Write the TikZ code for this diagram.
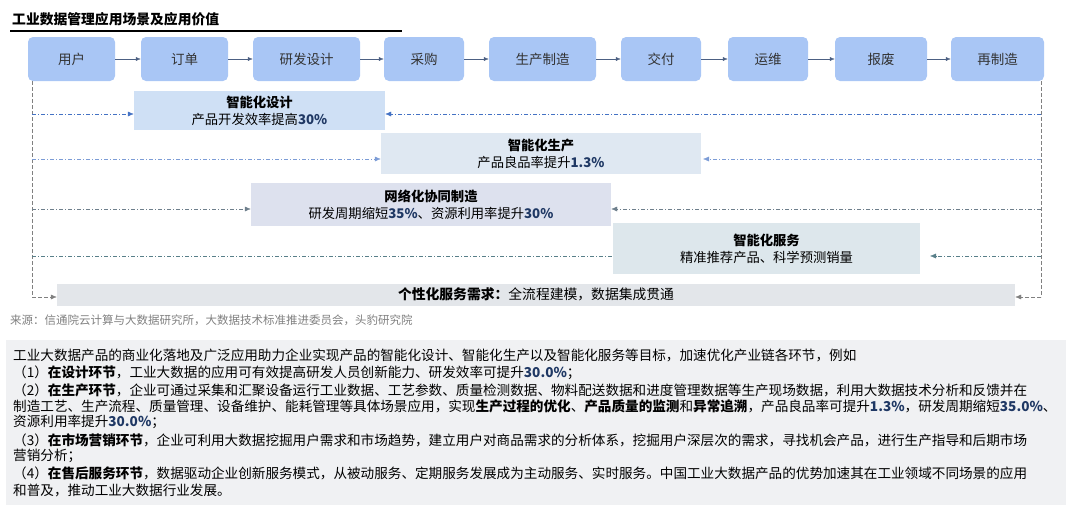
\documentclass[tikz,border=0pt]{standalone}
\usepackage{fontspec}
\setmainfont{Noto Sans CJK SC}
\usetikzlibrary{arrows.meta}
\definecolor{stepblue}{HTML}{A9C6F5}
\definecolor{navy}{HTML}{1F3864}
\definecolor{dashblue}{HTML}{4472C4}
\definecolor{dashgray}{HTML}{6E7F8C}
\definecolor{designfill}{HTML}{CFE0F5}
\definecolor{producefill}{HTML}{DFE8F2}
\definecolor{networkfill}{HTML}{DDE1EE}
\definecolor{servicefill}{HTML}{DDE7EC}
\definecolor{demandfill}{HTML}{E3E6EA}
\definecolor{summaryfill}{HTML}{F0F1F3}
\newcommand{\num}[1]{\textbf{\color{navy}#1}}
\begin{document}
\begin{tikzpicture}[x=1pt,y=-1pt,
    stepbox/.style={shape=rectangle,rounded corners=5pt,fill=stepblue,minimum height=44pt,font=\fontsize{13.5}{13}\selectfont,text=black!80},
    flow/.style={-{Latex[length=5pt,width=4pt]},navy!80,thin},
    scene/.style={shape=rectangle,align=center,font=\fontsize{13.3}{17}\selectfont,inner sep=0pt},
    link/.style={dash pattern=on 4pt off 2pt on 1pt off 2pt,thin,-{Latex[length=6pt,width=5pt]}},
    side/.style={dash pattern=on 4pt off 2pt,thin,gray},
    line/.style={anchor=west,font=\fontsize{13.6}{13}\selectfont,inner sep=0pt}]
\useasboundingbox (0,0) rectangle (1072,512);
% title
\node[anchor=west,inner sep=0pt,font=\fontsize{13.8}{13}\selectfont\bfseries] (title) at (12,19) {工业数据管理应用场景及应用价值};
\draw[line width=1.6pt] (10,31) -- (402,31);
% value chain
\node[stepbox,minimum width=87pt] (user) at (71.5,59) {用户};
\node[stepbox,minimum width=87pt] (order) at (184.5,59) {订单};
\node[stepbox,minimum width=107pt] (rnd) at (306.5,59) {研发设计};
\node[stepbox,minimum width=80pt] (buy) at (424,59) {采购};
\node[stepbox,minimum width=107pt] (make) at (542.5,59) {生产制造};
\node[stepbox,minimum width=80pt] (deliver) at (661,59) {交付};
\node[stepbox,minimum width=80pt] (maint) at (768,59) {运维};
\node[stepbox,minimum width=92pt] (scrap) at (881,59) {报废};
\node[stepbox,minimum width=93pt] (remake) at (997.5,59) {再制造};
\draw[flow] (user) -- (order);
\draw[flow] (order) -- (rnd);
\draw[flow] (rnd) -- (buy);
\draw[flow] (buy) -- (make);
\draw[flow] (make) -- (deliver);
\draw[flow] (deliver) -- (maint);
\draw[flow] (maint) -- (scrap);
\draw[flow] (scrap) -- (remake);
% scenes
\node[scene,fill=designfill,minimum width=251pt,minimum height=39pt] (design) at (259.5,110.5) {\textbf{智能化设计}\\产品开发效率提高\num{30\%}};
\node[scene,fill=producefill,minimum width=320pt,minimum height=41pt] (produce) at (541,153.5) {\textbf{智能化生产}\\产品良品率提升\num{1.3\%}};
\node[scene,fill=networkfill,minimum width=360pt,minimum height=43pt] (network) at (431,204.5) {\textbf{网络化协同制造}\\研发周期缩短\num{35\%}、资源利用率提升\num{30\%}};
\node[scene,fill=servicefill,minimum width=307pt,minimum height=51pt] (service) at (766.5,248.5) {\textbf{智能化服务}\\精准推荐产品、科学预测销量};
\node[scene,fill=demandfill,minimum width=958pt,minimum height=22pt,font=\fontsize{13.8}{13}\selectfont] (demand) at (536,294.5) {\textbf{个性化服务需求：}全流程建模，数据集成贯通};
% feedback loops
\coordinate (ltop) at (32,81);
\coordinate (rtop) at (1041,81);
\coordinate (lbot) at (32,297);
\coordinate (rbot) at (1041,297);
\draw[side] (ltop) -- (lbot);
\draw[side] (rtop) -- (rbot);
\draw[side,-{Latex[length=6pt,width=5pt]}] (lbot) -- (lbot -| demand.west);
\draw[side,-{Latex[length=6pt,width=5pt]}] (rbot) -- (rbot -| demand.east);
\draw[link,dashblue] (32,114) -- (design.west |- 0,114);
\draw[link,dashblue] (1041,114) -- (design.east |- 0,114);
\draw[link,dashblue!70] (32,159) -- (produce.west |- 0,159);
\draw[link,dashblue!70] (1041,159) -- (703,159);
\draw[link,dashgray] (32,209) -- (network.west |- 0,209);
\draw[link,dashgray] (1041,209) -- (network.east |- 0,209);
\draw[link,dashgray!80!teal,-] (32,256) -- (service.west |- 0,256);
\draw[link,dashgray!80!teal] (1041,256) -- (930,256);
% source
\node[anchor=west,inner sep=0pt,font=\fontsize{11.5}{11}\selectfont,text=gray] (source) at (10,320) {来源：信通院云计算与大数据研究所，大数据技术标准推进委员会，头豹研究院};
% summary
\fill[summaryfill] (6,340) rectangle (1066,505);
\node[line] (l1) at (13,355) {工业大数据产品的商业化落地及广泛应用助力企业实现产品的智能化设计、智能化生产以及智能化服务等目标，加速优化产业链各环节，例如};
\node[line] (l2) at (13,373) {（1）\textbf{在设计环节}，工业大数据的应用可有效提高研发人员创新能力、研发效率可提升\num{30.0\%}；};
\node[line] (l3) at (13,390) {（2）\textbf{在生产环节}，企业可通过采集和汇聚设备运行工业数据、工艺参数、质量检测数据、物料配送数据和进度管理数据等生产现场数据，利用大数据技术分析和反馈并在};
\node[line] (l4) at (13,406) {制造工艺、生产流程、质量管理、设备维护、能耗管理等具体场景应用，实现\textbf{生产过程的优化}、\textbf{产品质量的监测}和\textbf{异常追溯}，产品良品率可提升\num{1.3\%}，研发周期缩短\num{35.0\%}、};
\node[line] (l5) at (13,422) {资源利用率提升\num{30.0\%}；};
\node[line] (l6) at (13,440) {（3）\textbf{在市场营销环节}，企业可利用大数据挖掘用户需求和市场趋势，建立用户对商品需求的分析体系，挖掘用户深层次的需求，寻找机会产品，进行生产指导和后期市场};
\node[line] (l7) at (13,456) {营销分析；};
\node[line] (l8) at (13,473) {（4）\textbf{在售后服务环节}，数据驱动企业创新服务模式，从被动服务、定期服务发展成为主动服务、实时服务。中国工业大数据产品的优势加速其在工业领域不同场景的应用};
\node[line] (l9) at (13,490) {和普及，推动工业大数据行业发展。};
\end{tikzpicture}
\end{document}
